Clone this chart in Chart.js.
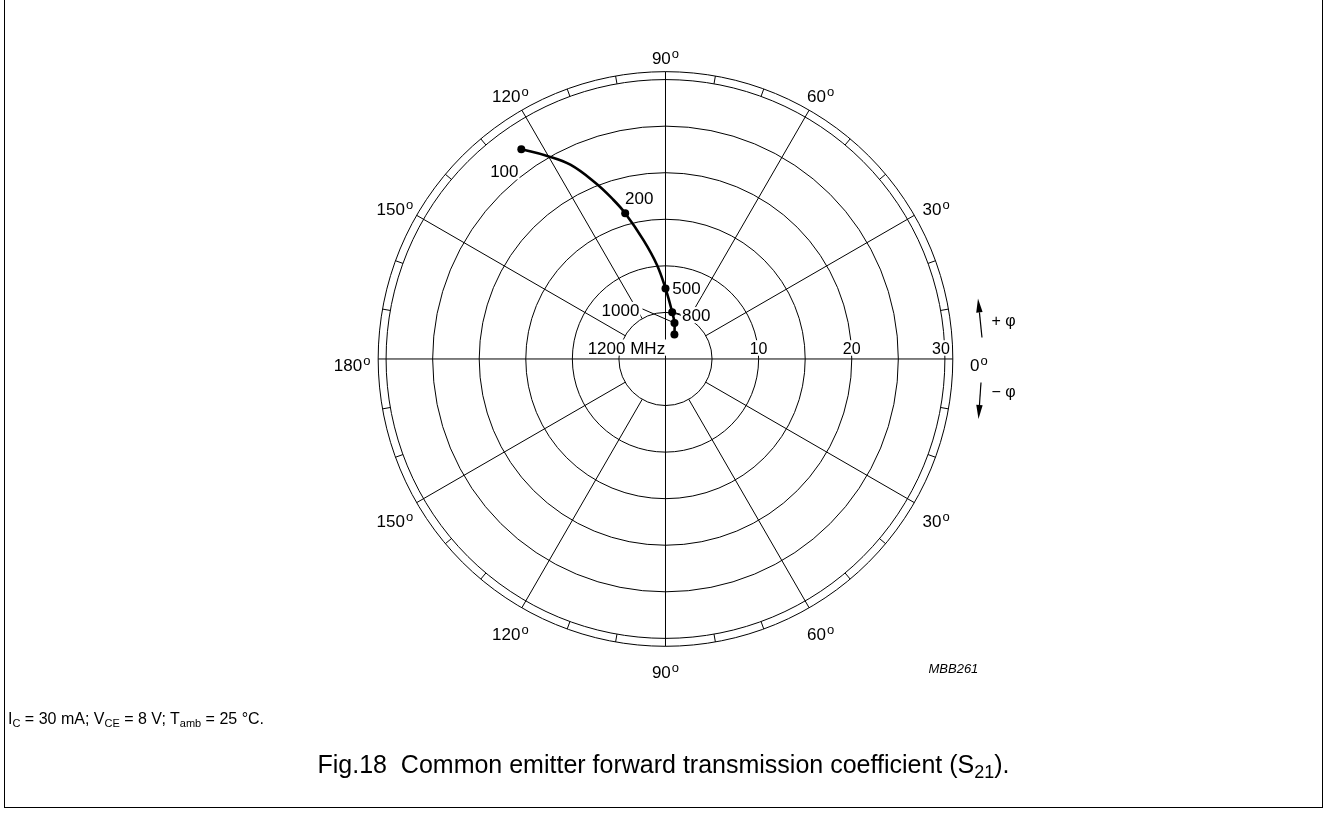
<!DOCTYPE html>
<html>
<head>
<meta charset="utf-8">
<script src="https://cdn.jsdelivr.net/npm/chart.js@4.4.0/dist/chart.umd.min.js"></script>
<style>
html, body { margin: 0; padding: 0; background: #fff; }
#page { position: relative; width: 1327px; height: 814px; overflow: hidden; font-family: "Liberation Sans", Arial, sans-serif; }
#page canvas { position: absolute; left: 0; top: 0; }
#frame { position: absolute; left: 4px; top: -2px; width: 1317px; height: 809px; border: 1.5px solid #000; border-top: none; }
#cond { position: absolute; left: 8px; top: 710px; font-size: 16px; color: #000; }
#cond sub { font-size: 11px; vertical-align: -3px; line-height: 0; }
#caption { position: absolute; left: 0; width: 1327px; top: 750px; text-align: center; font-size: 25px; color: #000; }
#caption sub { font-size: 18px; vertical-align: -5px; line-height: 0; }
</style>
</head>
<body>
<div id="page">
  <canvas id="s21Chart" width="1327" height="814"></canvas>
  <div id="frame"></div>
  <div id="cond">I<sub>C</sub> = 30 mA; V<sub>CE</sub> = 8 V; T<sub>amb</sub> = 25 °C.</div>
  <div id="caption">Fig.18&nbsp;&nbsp;Common emitter forward transmission coefficient (S<sub>21</sub>).</div>
</div>
<script>
// polar grid
var ring_values = [5, 10, 15, 20, 25, 30];
var radius_tick_values = [10, 20, 30];
var radius_tick_labels = ['10', '20', '30'];
var angle_ticks = [0, 30, 60, 90, 120, 150, 180, 210, 240, 270, 300, 330];
var angle_tick_labels = ['0', '30', '60', '90', '120', '150', '180', '150', '120', '90', '60', '30'];

// S21 markers (magnitude, phase in degrees)
var freq_labels = ['100', '200', '500', '800', '1000', '1200 MHz'];
var s21_mag = [27.4, 16.3, 7.6, 5.1, 4.0, 2.8];
var s21_phase = [124.4, 105.4, 90.0, 81.9, 76.0, 70.0];

// points (markers included)
var trace_mag = [27.4, 25.3, 23.3, 20.4, 18.2, 16.3, 13.0, 10.2, 7.6, 5.1, 4.0, 2.8];
var trace_phase = [124.4, 120.1, 116.0, 111.6, 108.3, 105.4, 100.4, 95.2, 90.0, 81.9, 76.0, 70.0];

// layout
var px_per_unit = 9.37;
var center_x = 665.5, center_y = 358.5;
var outer_ring = 30.85;
var canvas_w = 1327, canvas_h = 814;
// label text centre relative to its marker, pixels
var freq_label_offsets = [[-17, 22], [14, -15], [21, -1], [24, 3], [-54, -13], [-48, 13]];
var leader_ends = [null, null, null, [8, 2], [-32, -14], null];

function polarToXY(mags, phases) {
    return mags.map(function(m, i) {
        var a = phases[i] * Math.PI / 180;
        return {x: m * Math.cos(a), y: m * Math.sin(a)};
    });
}

function boxText(ctx, txt, x, y, size) {
    ctx.font = size + 'px "Liberation Sans", Arial, sans-serif';
    var w = ctx.measureText(txt).width;
    var cap = size * 0.716;
    ctx.fillStyle = '#fff';
    ctx.fillRect(x - w / 2 - 1, y - cap / 2 - 2, w + 2, cap + 4);
    ctx.fillStyle = '#000';
    ctx.textAlign = 'center';
    ctx.textBaseline = 'alphabetic';
    ctx.fillText(txt, x, y + cap / 2);
}

function degText(ctx, txt, x, y) {
    var size = 17;
    ctx.font = size + 'px "Liberation Sans", Arial, sans-serif';
    var wd = ctx.measureText(txt).width;
    ctx.font = '13px "Liberation Sans", Arial, sans-serif';
    var wo = ctx.measureText('o').width;
    var total = wd + 1 + wo;
    var x0 = x - total / 2;
    var base = y + size * 0.716 / 2;
    ctx.fillStyle = '#000';
    ctx.textAlign = 'left';
    ctx.textBaseline = 'alphabetic';
    ctx.font = size + 'px "Liberation Sans", Arial, sans-serif';
    ctx.fillText(txt, x0, base);
    ctx.font = '13px "Liberation Sans", Arial, sans-serif';
    ctx.fillText('o', x0 + wd + 1, base - 6);
}

function arrow(ctx, x1, y1, x2, y2) {
    var a = Math.atan2(y2 - y1, x2 - x1);
    var hl = 14, hw = 3.2;
    var bx = x2 - hl * Math.cos(a), by = y2 - hl * Math.sin(a);
    ctx.beginPath();
    ctx.moveTo(x1, y1);
    ctx.lineTo(bx, by);
    ctx.lineWidth = 1.2;
    ctx.stroke();
    ctx.beginPath();
    ctx.moveTo(x2, y2);
    ctx.lineTo(bx + hw * Math.sin(a), by - hw * Math.cos(a));
    ctx.lineTo(bx - hw * Math.sin(a), by + hw * Math.cos(a));
    ctx.closePath();
    ctx.fill();
}

var polarGrid = {
    id: 'polarGrid',
    beforeDatasetsDraw: function(chart) {
        var xs = chart.scales.x, ys = chart.scales.y, ctx = chart.ctx;
        var cx = xs.getPixelForValue(0), cy = ys.getPixelForValue(0);
        var unit = xs.getPixelForValue(1) - cx;
        function pt(r, deg) {
            var a = deg * Math.PI / 180;
            return [cx + r * unit * Math.cos(a), cy - r * unit * Math.sin(a)];
        }
        ctx.save();
        ctx.strokeStyle = '#000';
        ctx.lineWidth = 1;
        // rings
        ring_values.concat([outer_ring]).forEach(function(r) {
            ctx.beginPath();
            ctx.arc(cx, cy, r * unit, 0, 2 * Math.PI);
            ctx.stroke();
        });
        // spokes, the axes go through the centre
        angle_ticks.forEach(function(deg) {
            var r0 = deg % 90 === 0 ? 0 : ring_values[0];
            var p0 = pt(r0, deg), p1 = pt(outer_ring, deg);
            ctx.beginPath();
            ctx.moveTo(p0[0], p0[1]);
            ctx.lineTo(p1[0], p1[1]);
            ctx.stroke();
        });
        // 10 degree ticks in the scale ring
        for (var d = 0; d < 360; d += 10) {
            if (d % 30 === 0) continue;
            var q0 = pt(30, d), q1 = pt(outer_ring, d);
            ctx.beginPath();
            ctx.moveTo(q0[0], q0[1]);
            ctx.lineTo(q1[0], q1[1]);
            ctx.stroke();
        }
        // magnitude labels
        radius_tick_values.forEach(function(v, i) {
            var shift = v === 30 ? -4 : 0;
            boxText(ctx, radius_tick_labels[i], cx + v * unit + shift, cy - 11, 16);
        });
        // angle labels
        angle_ticks.forEach(function(deg, i) {
            var a = deg * Math.PI / 180;
            var c = Math.cos(a), s = Math.sin(a);
            var rl = outer_ring * unit + 20 + 6 * Math.abs(c);
            degText(ctx, angle_tick_labels[i], cx + rl * c, cy - rl * s + 6);
        });
        // frequency labels with leader lines
        s21_mag.forEach(function(m, i) {
            var a = s21_phase[i] * Math.PI / 180;
            var px = xs.getPixelForValue(m * Math.cos(a));
            var py = ys.getPixelForValue(m * Math.sin(a));
            var off = freq_label_offsets[i];
            if (leader_ends[i]) {
                ctx.beginPath();
                ctx.lineWidth = 1;
                ctx.moveTo(px, py);
                ctx.lineTo(px + leader_ends[i][0], py + leader_ends[i][1]);
                ctx.stroke();
            }
            boxText(ctx, freq_labels[i], px + off[0], py + off[1], 17);
        });
        ctx.restore();
    },
    afterDraw: function(chart) {
        var xs = chart.scales.x, ys = chart.scales.y, ctx = chart.ctx;
        var cx = xs.getPixelForValue(0), cy = ys.getPixelForValue(0);
        ctx.save();
        ctx.strokeStyle = '#000';
        ctx.fillStyle = '#000';
        arrow(ctx, cx + 316.5, cy - 21.5, cx + 312.5, cy - 60.5);
        arrow(ctx, cx + 315.5, cy + 23.5, cx + 313, cy + 60);
        ctx.font = '16px "Liberation Sans", Arial, sans-serif';
        ctx.textAlign = 'left';
        ctx.textBaseline = 'middle';
        ctx.fillText('+ \u03C6', cx + 326, cy - 37);
        ctx.fillText('\u2212 \u03C6', cx + 326, cy + 34);
        ctx.font = 'italic 13px "Liberation Sans", Arial, sans-serif';
        ctx.fillText('MBB261', cx + 263, cy + 310);
        ctx.restore();
    }
};

var s21_config = {
    type: 'scatter',
    data: {
        datasets: [{
            data: polarToXY(trace_mag, trace_phase),
            showLine: true,
            tension: 0.4,
            borderColor: '#000',
            borderWidth: 2.6,
            pointRadius: 0,
            fill: false
        }, {
            data: polarToXY(s21_mag, s21_phase),
            showLine: false,
            pointRadius: 4,
            pointBackgroundColor: '#000',
            pointBorderColor: '#000',
            pointBorderWidth: 0
        }]
    },
    options: {
        responsive: false,
        animation: false,
        events: [],
        layout: { padding: 0 },
        plugins: {
            legend: { display: false },
            tooltip: { enabled: false }
        },
        scales: {
            x: {
                type: 'linear',
                display: false,
                min: -center_x / px_per_unit,
                max: (canvas_w - center_x) / px_per_unit
            },
            y: {
                type: 'linear',
                display: false,
                min: -(canvas_h - center_y) / px_per_unit,
                max: center_y / px_per_unit
            }
        }
    },
    plugins: [polarGrid]
};

var s21Chart = new Chart(document.getElementById('s21Chart'), s21_config);
</script>
</body>
</html>
